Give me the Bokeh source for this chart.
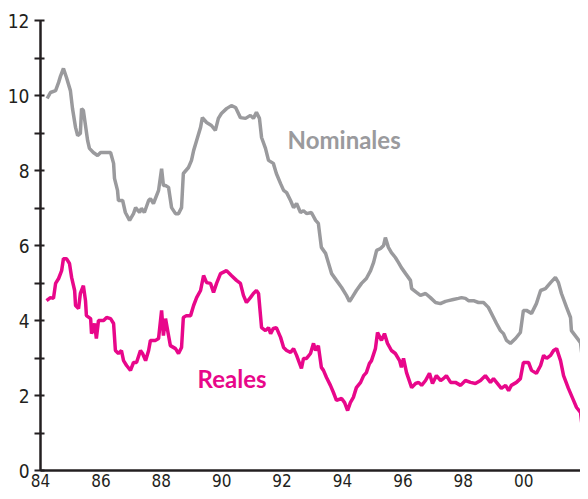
from bokeh.plotting import figure
from bokeh.models import Range1d, FixedTicker, Label
from bokeh.embed import file_html
from bokeh.resources import INLINE

# Nominal rates (year, %)
nom_year = [84.22, 84.33, 84.50, 84.60, 84.66, 84.76, 84.86, 84.99, 85.06, 85.16, 85.23, 85.32, 85.36, 85.42,
            85.49, 85.56, 85.62, 85.75, 85.89, 85.99, 86.32, 86.42, 86.45, 86.55, 86.58, 86.72, 86.81, 86.95,
            87.08, 87.15, 87.28, 87.34, 87.44, 87.58, 87.64, 87.74, 87.91, 88.01, 88.07, 88.14, 88.24, 88.34,
            88.47, 88.57, 88.67, 88.73, 88.90, 89.00, 89.07, 89.17, 89.30, 89.36, 89.50, 89.66, 89.79, 89.89,
            89.99, 90.16, 90.32, 90.46, 90.62, 90.79, 90.95, 91.05, 91.15, 91.25, 91.32, 91.45, 91.55, 91.71,
            91.81, 91.95, 92.05, 92.15, 92.28, 92.38, 92.48, 92.61, 92.71, 92.81, 92.97, 93.11, 93.20, 93.30,
            93.44, 93.54, 93.64, 93.80, 93.97, 94.13, 94.23, 94.30, 94.46, 94.63, 94.79, 94.93, 95.03, 95.13,
            95.26, 95.36, 95.42, 95.52, 95.62, 95.75, 95.85, 95.95, 96.09, 96.25, 96.29, 96.45, 96.58, 96.75,
            96.91, 97.08, 97.24, 97.41, 97.51, 97.67, 97.84, 97.94, 98.07, 98.17, 98.34, 98.50, 98.67, 98.83,
            99.00, 99.10, 99.23, 99.33, 99.43, 99.56, 99.73, 99.89, 99.99, 100.09, 100.26, 100.42, 100.56,
            100.72, 100.89, 101.05, 101.15, 101.25, 101.42, 101.55, 101.58, 101.75, 101.88, 101.98, 102.05,
            102.15]
nom_val = [9.92, 10.08, 10.13, 10.35, 10.51, 10.72, 10.48, 10.13, 9.65, 9.15, 8.93, 8.99, 9.65, 9.60,
           9.20, 8.80, 8.59, 8.48, 8.40, 8.48, 8.48, 8.19, 7.79, 7.47, 7.20, 7.20, 6.88, 6.67,
           6.85, 7.01, 6.88, 6.99, 6.88, 7.20, 7.25, 7.12, 7.47, 8.05, 7.60, 7.60, 7.55, 7.01,
           6.85, 6.85, 7.01, 7.92, 8.08, 8.27, 8.53, 8.80, 9.15, 9.41, 9.28, 9.20, 9.07, 9.39,
           9.52, 9.65, 9.73, 9.68, 9.41, 9.39, 9.47, 9.39, 9.55, 9.39, 8.88, 8.59, 8.27, 8.19,
           7.92, 7.65, 7.47, 7.41, 7.20, 7.01, 7.12, 6.88, 6.93, 6.85, 6.88, 6.67, 6.59, 5.95,
           5.79, 5.52, 5.25, 5.07, 4.88, 4.67, 4.51, 4.59, 4.80, 4.99, 5.12, 5.33, 5.55, 5.87,
           5.92, 6.00, 6.21, 5.95, 5.81, 5.68, 5.55, 5.41, 5.25, 5.07, 4.85, 4.75, 4.67, 4.72,
           4.61, 4.48, 4.45, 4.51, 4.53, 4.56, 4.59, 4.61, 4.59, 4.53, 4.53, 4.48, 4.48, 4.35,
           4.08, 3.92, 3.73, 3.65, 3.47, 3.39, 3.52, 3.68, 4.27, 4.27, 4.19, 4.45, 4.80,
           4.85, 5.01, 5.15, 5.01, 4.72, 4.35, 4.08, 3.73, 3.55, 3.41, 2.75, 2.61,
           2.40]

# Real rates (year, %)
real_year = [84.20, 84.33, 84.43, 84.50, 84.60, 84.70, 84.76, 84.86, 84.96, 85.03, 85.13, 85.16, 85.26, 85.32,
             85.42, 85.49, 85.52, 85.66, 85.69, 85.79, 85.85, 85.92, 86.09, 86.19, 86.32, 86.42, 86.48, 86.58,
             86.68, 86.75, 86.85, 86.98, 87.08, 87.18, 87.31, 87.38, 87.48, 87.58, 87.64, 87.81, 87.91, 88.01,
             88.07, 88.14, 88.24, 88.30, 88.47, 88.57, 88.67, 88.73, 88.83, 88.97, 89.07, 89.17, 89.30, 89.40,
             89.50, 89.63, 89.73, 89.83, 89.96, 90.16, 90.32, 90.49, 90.62, 90.72, 90.82, 90.95, 91.05,
             91.15, 91.22, 91.32, 91.45, 91.55, 91.62, 91.71, 91.81, 91.95, 92.05, 92.15, 92.28, 92.38, 92.48,
             92.64, 92.71, 92.81, 92.94, 93.04, 93.11, 93.20, 93.30, 93.37, 93.47, 93.60, 93.70, 93.80, 93.97,
             94.07, 94.17, 94.26, 94.36, 94.46, 94.60, 94.70, 94.79, 94.89, 94.96, 95.09, 95.16, 95.29, 95.39,
             95.49, 95.62, 95.75, 95.89, 95.95, 96.02, 96.12, 96.29, 96.42, 96.52, 96.62, 96.75, 96.88, 96.98,
             97.11, 97.25, 97.34, 97.44, 97.58, 97.74, 97.91, 98.07, 98.24, 98.40, 98.57, 98.73, 98.90, 99.00,
             99.10, 99.26, 99.40, 99.50, 99.59, 99.76, 99.89, 99.99, 100.16, 100.26, 100.42, 100.56, 100.66,
             100.76, 100.89, 100.99, 101.09, 101.22, 101.32, 101.48, 101.65, 101.75, 101.88, 101.98, 102.08,
             102.15]
real_val = [4.53, 4.61, 4.59, 4.99, 5.12, 5.33, 5.65, 5.65, 5.52, 5.15, 4.80, 4.40, 4.32, 4.72,
            4.93, 4.53, 4.13, 4.05, 3.65, 3.92, 3.52, 4.00, 4.00, 4.08, 4.05, 3.92, 3.20, 3.12,
            3.20, 2.93, 2.80, 2.67, 2.88, 2.88, 3.20, 3.12, 2.93, 3.20, 3.47, 3.47, 3.52, 4.27,
            3.60, 4.05, 3.60, 3.33, 3.25, 3.12, 3.28, 4.08, 4.13, 4.13, 4.40, 4.61, 4.80, 5.20,
            5.01, 4.99, 4.75, 4.99, 5.25, 5.33, 5.20, 5.07, 4.99, 4.67, 4.48, 4.61, 4.72,
            4.80, 4.72, 3.81, 3.73, 3.81, 3.65, 3.79, 3.81, 3.55, 3.28, 3.20, 3.15, 3.25, 3.07,
            2.72, 2.99, 2.99, 3.12, 3.39, 3.20, 3.33, 2.75, 2.67, 2.48, 2.27, 2.08, 1.87, 1.92,
            1.81, 1.60, 1.81, 1.95, 2.21, 2.35, 2.53, 2.61, 2.85, 2.93, 3.25, 3.68, 3.47, 3.65,
            3.39, 3.20, 3.12, 2.93, 2.75, 2.99, 2.61, 2.21, 2.32, 2.35, 2.27, 2.40, 2.59, 2.32,
            2.53, 2.40, 2.45, 2.53, 2.35, 2.35, 2.27, 2.40, 2.35, 2.32, 2.40, 2.53, 2.35, 2.45,
            2.35, 2.19, 2.27, 2.13, 2.27, 2.35, 2.45, 2.88, 2.88, 2.67, 2.59, 2.80, 3.07,
            2.99, 3.07, 3.20, 3.25, 2.93, 2.53, 2.19, 1.87, 1.68, 1.55, 0.88, 0.67,
            0.45]

x_ticks = [84, 86, 88, 90, 92, 94, 96, 98, 100]
x_tick_labels = {100: "00"}
y_ticks = [0, 2, 4, 6, 8, 10, 12]
y_minor = [1, 3, 5, 7, 9, 11]

GRAY = "#9a9a9d"
MAGENTA = "#e8078a"
AXIS = "#231f20"
TICK_FONT = "'DejaVu Sans Condensed', 'Liberation Sans Narrow', sans-serif"

FRAME_W = 540
PX_PER_YEAR = 30.2

p = figure(width=580, height=491, output_backend="svg", toolbar_location=None,
           x_range=Range1d(84, 84 + FRAME_W / PX_PER_YEAR), y_range=Range1d(0, 12))
p.min_border_left = 40
p.min_border_right = 0
p.min_border_top = 20
p.min_border_bottom = 21
p.outline_line_color = None
p.background_fill_color = "white"
p.xgrid.visible = False
p.ygrid.visible = False

p.line(nom_year, nom_val, line_color=GRAY, line_width=3.5)
p.line(real_year, real_val, line_color=MAGENTA, line_width=3.5)

p.add_layout(Label(x=92.18, y=8.83, text="Nominales", text_color=GRAY, text_font="Lato",
                   text_font_style="bold", text_font_size="24px", text_baseline="middle"))
p.add_layout(Label(x=89.2, y=2.45, text="Reales", text_color=MAGENTA, text_font="Lato",
                   text_font_style="bold", text_font_size="24px", text_baseline="middle"))

xa = p.xaxis[0]
xa.ticker = FixedTicker(ticks=x_ticks)
xa.major_label_overrides = x_tick_labels
xa.axis_line_color = AXIS
xa.axis_line_width = 2.5
xa.major_tick_in = 0
xa.major_tick_out = 0
xa.minor_tick_in = 0
xa.minor_tick_out = 0
xa.major_label_standoff = 3
xa.major_label_text_font = TICK_FONT
xa.major_label_text_font_size = "17px"
xa.major_label_text_color = AXIS

ya = p.yaxis[0]
ya.ticker = FixedTicker(ticks=y_ticks, minor_ticks=y_minor)
ya.axis_line_color = AXIS
ya.axis_line_width = 2.5
ya.major_tick_line_color = AXIS
ya.minor_tick_line_color = AXIS
ya.major_tick_line_width = 2
ya.minor_tick_line_width = 2
ya.major_tick_in = 4
ya.major_tick_out = 6
ya.minor_tick_in = 4
ya.minor_tick_out = 6
ya.major_label_standoff = 5
ya.major_label_text_font = TICK_FONT
ya.major_label_text_font_size = "19px"
ya.major_label_text_color = AXIS

open("out.html", "w").write(file_html(p, INLINE))
